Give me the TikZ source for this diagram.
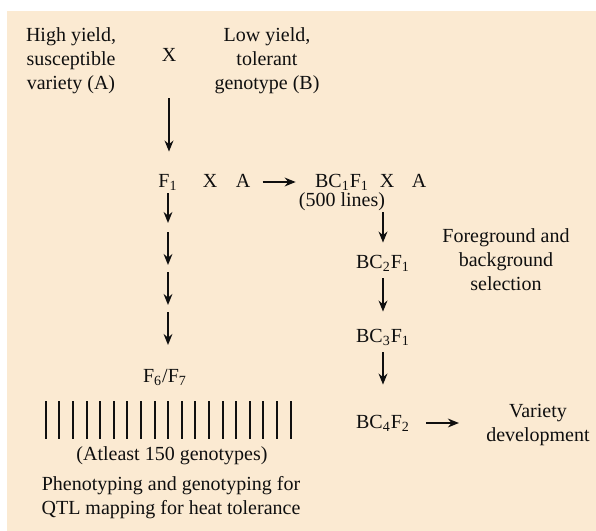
\documentclass[tikz,border=0pt]{standalone}
\usepackage{fontspec}
\setmainfont{Liberation Serif}
\usetikzlibrary{arrows.meta, calc}
\definecolor{fondoBeige}{RGB}{251,234,210}
\definecolor{tinta}{RGB}{15,15,15}

\begin{document}
\begin{tikzpicture}[
  x=0.5pt, y=-0.5pt,
  lbl/.style={inner sep=0pt, font=\fontsize{10}{12}\selectfont, text=tinta,
              text height=7pt, text depth=2pt},
  blk/.style={inner sep=0pt, align=center, font=\fontsize{10}{12}\selectfont,
              text=tinta},
  arrow/.style={-{Stealth[length=5.5pt, width=4.4pt]}, line width=0.9pt, color=tinta},
  bar/.style={line width=1pt, color=tinta}
]

% Fondo
\fill[fondoBeige] (7,11) rectangle (596,531);
\useasboundingbox (0,0) rectangle (596,531);

% Padres y cruce inicial
\node[blk] (parA)   at (71,61)  {High yield,\\susceptible\\variety (A)};
\node[lbl] (cruce1) at (169,56) {X};
\node[blk] (parB)   at (267,61) {Low yield,\\tolerant\\genotype (B)};

% Fila F1 y retrocruza
\node[lbl] (f1)     at (168,182) {F\textsubscript{1}};
\node[lbl] (cruce2) at (210,182) {X};
\node[lbl] (recA1)  at (243,182) {A};
\node[lbl] (bc1)    at (342,182) {BC\textsubscript{1}F\textsubscript{1}};
\node[lbl] (cruce3) at (387,182) {X};
\node[lbl] (recA2)  at (419,182) {A};
\node[lbl] (lineas) at (342,201) {(500 lines)};

% Columna derecha: generaciones de retrocruza
\node[lbl] (bc2) at (383,263) {BC\textsubscript{2}F\textsubscript{1}};
\node[lbl] (bc3) at (383,337) {BC\textsubscript{3}F\textsubscript{1}};
\node[lbl] (bc4) at (383,423) {BC\textsubscript{4}F\textsubscript{2}};
\node[blk] (seleccion) at (506,260) {Foreground and\\background\\selection};
\node[blk] (variedad)  at (538,425) {Variety\\development};

% Columna izquierda: RILs
\node[lbl] (f6)       at (165,377) {F\textsubscript{6}/F\textsubscript{7}};
\node[lbl] (genotipos) at (172,455) {(Atleast 150 genotypes)};
\node[blk] (fenotipo) at (171,498) {Phenotyping and genotyping for\\QTL mapping for heat tolerance};

% Barras de lineas
\foreach \i in {0,...,18}
  \draw[bar] (45.7+13.6*\i,401) -- (45.7+13.6*\i,439);

% Flechas
\draw[arrow, shorten <=16.5pt, shorten >=10.5pt] (cruce1.south) -- (cruce1.south |- f1.north);
\foreach \ya/\yb [count=\i] in {193/223, 232/265, 272/305, 312/345} {
  \coordinate (ga\i) at (168,\ya);
  \coordinate (gb\i) at (168,\yb);
  \draw[arrow] (ga\i) -- (gb\i);
}
\draw[arrow, shorten <=6pt, shorten >=9.5pt] (recA1.east) -- (bc1.west);
\draw[arrow, shorten <=1pt, shorten >=5.5pt] (lineas.south -| bc2) -- (bc2.north);
\draw[arrow, shorten <=3pt, shorten >=8pt] (bc2) -- (bc3);
\draw[arrow, shorten <=3pt, shorten >=14.5pt] (bc3) -- (bc4);
\draw[arrow, shorten <=8pt, shorten >=13.5pt] (bc4.east) -- (variedad.west |- bc4.east);

\end{tikzpicture}
\end{document}
